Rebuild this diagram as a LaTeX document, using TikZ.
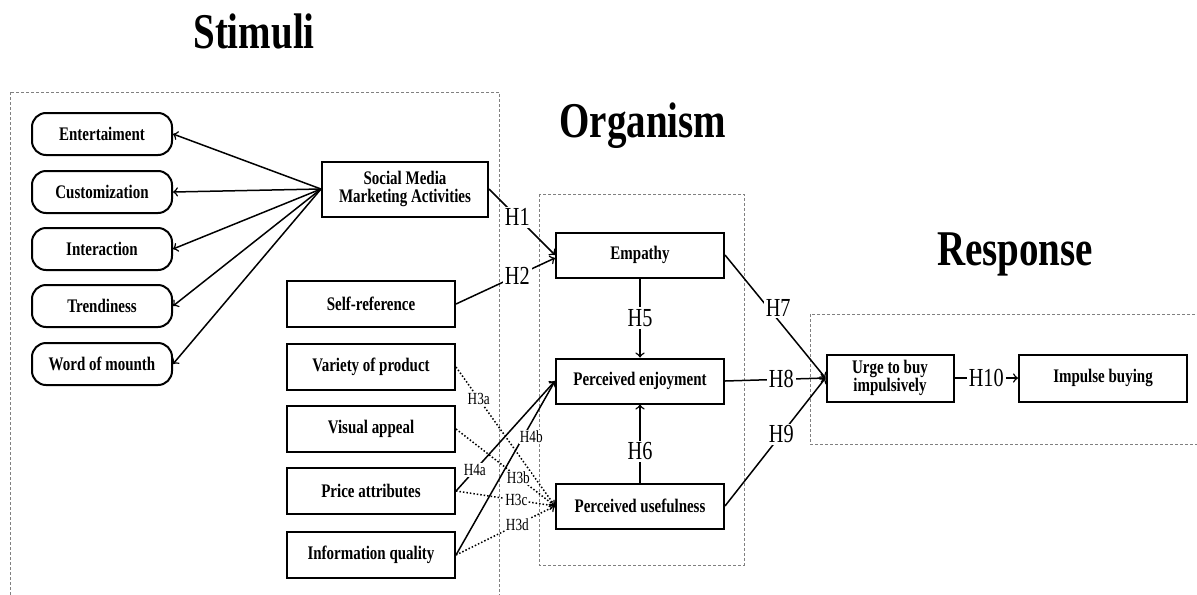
\documentclass[tikz,border=0pt]{standalone}
\usepackage{fontspec}
\setmainfont{Liberation Serif}[FakeStretch=0.78]
\usetikzlibrary{arrows}
\tikzset{bx/.style={draw,line width=1pt,inner sep=0pt,align=center,font=\fontsize{9.6}{9}\selectfont\bfseries,minimum width=84pt,minimum height=23pt}}
\tikzset{rbx/.style={bx,rounded corners=7pt,minimum width=70pt,minimum height=21pt}}
\tikzset{h/.style={fill=white,inner sep=1pt,font=\fontsize{13}{13}\selectfont}}
\tikzset{hs/.style={fill=white,inner sep=0.5pt,font=\fontsize{8.5}{8.5}\selectfont}}
\tikzset{ttl/.style={anchor=base,font=\fontsize{25}{25}\selectfont\bfseries}}
\tikzset{zone/.style={draw=gray,line width=0.4pt,dash pattern=on 1.5pt off 1pt}}

\begin{document}
\begin{tikzpicture}[x=0.5pt,y=-0.5pt,line width=0.75pt]
        \useasboundingbox (0,0) rectangle (1197,594);
        % dashed zones
        \draw[zone] (10,92) rectangle (499,610);
        \draw[zone] (539,194) rectangle (744,565);
        \draw[zone] (810,314) rectangle (1210,444);
        % titles
        \node[ttl] (tstim) at (254,48) {Stimuli};
        \node[ttl] (torg) at (643,137) {Organism};
        \node[ttl] (tresp) at (1015,265) {Response};
        % stimuli
        \node[rbx] (ent) at (102,134) {Entertaiment};
        \node[rbx] (cus) at (102,192) {Customization};
        \node[rbx] (int) at (102,249) {Interaction};
        \node[rbx] (tre) at (102,306) {Trendiness};
        \node[rbx] (wom) at (102,364) {Word of mounth};
        \node[bx,minimum width=83pt,minimum height=27.5pt] (smma) at (405,189) {Social Media\\Marketing Activities};
        \foreach \n in {ent,cus,int,tre,wom}
          \draw[->] (smma.west) -- (\n.east);
        \node[bx] (self) at (371,304) {Self-reference};
        \node[bx] (variety) at (371,367) {Variety of product};
        \node[bx] (visual) at (371,429) {Visual appeal};
        \node[bx] (price) at (371,491) {Price attributes};
        \node[bx] (info) at (371,555) {Information quality};
        % organism
        \node[bx,minimum height=22.5pt] (emp) at (640,255) {Empathy};
        \node[bx,minimum height=22.5pt] (enj) at (640,381) {Perceived enjoyment};
        \node[bx,minimum height=22.5pt] (use) at (640,506) {Perceived usefulness};
        % response
        \node[bx,minimum width=63.5pt,minimum height=23.5pt] (urge) at (890,378) {Urge to buy\\impulsively};
        \node[bx,minimum height=23.5pt] (imp) at (1103,378) {Impulse buying};
        % hypotheses
        \draw[->,densely dotted] (variety.east) -- node[hs,pos=.23] {H3a} (use.west);
        \draw[->,densely dotted] (visual.east) -- node[hs,pos=.63] {H3b} (use.west);
        \draw[->,densely dotted] (price.east) -- node[hs,pos=.61] {H3c} (use.west);
        \draw[->,densely dotted] (info.east) -- node[hs,pos=.62] {H3d} (use.west);
        \draw[->] (price.east) -- node[hs,pos=.19] {H4a} (enj.west);
        \draw[->] (info.east) -- node[hs,pos=.68,xshift=4pt] {H4b} (enj.west);
        \draw[->] (smma.east) -- node[h,pos=.43] {H1} (emp.west);
        \draw[->] (self.east) -- node[h,pos=.62] {H2} ([yshift=-1.5pt]emp.west);
        \draw[->] (emp) -- node[h] {H5} (enj);
        \draw[->] (use) -- node[h,pos=.4] {H6} (enj);
        \draw[->] (emp.east) -- node[h,pos=.43,xshift=5pt] {H7} (urge.west);
        \draw[->] (enj.east) -- node[h,pos=.56] {H8} (urge.west);
        \draw[->] (use.east) -- node[h,pos=.56] {H9} (urge.west);
        \draw[->] (urge) -- node[h] {H10} (imp);
      \end{tikzpicture}
\end{document}
